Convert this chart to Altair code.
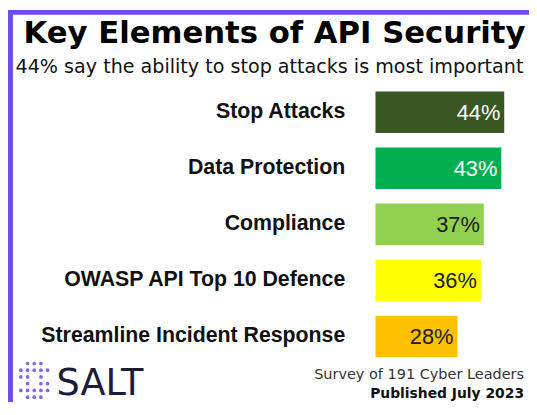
import altair as alt
import pandas as pd

categories = ["Stop Attacks", "Data Protection", "Compliance",
              "OWASP API Top 10 Defence", "Streamline Incident Response"]
values = [44, 43, 37, 36, 28]
bar_colors = ["#385723", "#00b050", "#92d050", "#ffff00", "#ffc000"]
text_colors = ["#ffffff", "#ffffff", "#1a1a1a", "#1a1a1a", "#1a1a1a"]

title_text = "Key Elements of API Security"
subtitle_text = "44% say the ability to stop attacks is most important"
source_text = "Survey of 191 Cyber Leaders"
published_text = "Published July 2023"
brand_text = "SALT"

# logo dot grid (column, row)
logo_cols = [1, 2, 3, 0, 1, 2, 3, 4, 0, 1, 3, 1, 3, 4, 0, 1, 2, 3, 4, 1, 2, 3]
logo_rows = [0, 0, 0, 1, 1, 1, 1, 1, 2, 2, 2, 3, 3, 3, 4, 4, 4, 4, 4, 5, 5, 5]

FONT = "DejaVu Sans"
ARIAL = "Liberation Sans"
PURPLE = "#6c4bef"

df = pd.DataFrame({
    "category": categories,
    "value": values,
    "label": [f"{v}%" for v in values],
    "bar_color": bar_colors,
    "text_color": text_colors,
})

x_enc = alt.X("value:Q", scale=alt.Scale(domain=[0, 44], nice=False), axis=None)
y_enc = alt.Y(
    "category:N", sort=categories,
    scale=alt.Scale(paddingInner=0.26, paddingOuter=0.13),
    axis=alt.Axis(title=None, ticks=False, domain=False, labelPadding=31,
                  labelFont=ARIAL, labelFontWeight="bold", labelFontSize=21.5,
                  labelColor="#111111", labelLimit=400),
)

bars = alt.Chart(df).mark_bar().encode(
    x=x_enc, y=y_enc,
    color=alt.Color("bar_color:N", scale=None),
)
bar_text = alt.Chart(df).mark_text(
    align="right", baseline="middle", dx=-4, dy=1, font=ARIAL, fontSize=22
).encode(
    x=x_enc, y=y_enc, text="label:N",
    color=alt.Color("text_color:N", scale=None),
)
bar_layer = alt.layer(bars, bar_text)

logo_df = pd.DataFrame({"c": logo_cols, "r": logo_rows})
logo = alt.Chart(logo_df).mark_circle(color=PURPLE, size=14, opacity=0.85).encode(
    x=alt.X("c:Q", scale=alt.Scale(domain=[0, 4], range=[-358, -331], nice=False, zero=False), axis=None),
    y=alt.Y("r:Q", scale=alt.Scale(domain=[0, 5], range=[282, 316], nice=False, zero=False), axis=None),
)


def text_layer(s, x, y, align, size, weight="normal", color="#111111", font=FONT):
    return alt.Chart(pd.DataFrame({"t": [s]})).mark_text(
        align=align, baseline="alphabetic", font=font, fontSize=size,
        fontWeight=weight, color=color
    ).encode(x=alt.value(x), y=alt.value(y), text="t:N")


title = text_layer(title_text, -102, -42, "center", 31, "bold", "#000000")
subtitle = text_layer(subtitle_text, -107, -11, "center", 19.3, "normal", "#111111")
source = text_layer(source_text, 150, 298, "right", 14.6, "normal", "#333333")
published = text_layer(published_text, 150, 317, "right", 14, "bold", "#111111")
brand = text_layer(brand_text, -322, 314, "left", 37, "normal", "#1c1c3a")

left_strip = alt.Chart(pd.DataFrame({"a": [0]})).mark_rule(color=PURPLE, strokeWidth=5).encode(
    x=alt.value(-368.5), y=alt.value(-75), y2=alt.value(321))
top_strip = alt.Chart(pd.DataFrame({"a": [0]})).mark_rule(color=PURPLE, strokeWidth=5).encode(
    x=alt.value(-371), x2=alt.value(155), y=alt.value(-72.5))

chart = alt.layer(
    bar_layer, logo, title, subtitle, source, published, brand, left_strip, top_strip
).resolve_scale(x="independent", y="independent").properties(
    width=130, height=283,
    padding={"left": 371, "top": 75, "right": 25, "bottom": 38},
    autosize=alt.AutoSizeParams(type="none"),
    background="white",
).configure_view(stroke=None)

chart.save("out.html", embed_options={"renderer": "svg", "actions": False})
